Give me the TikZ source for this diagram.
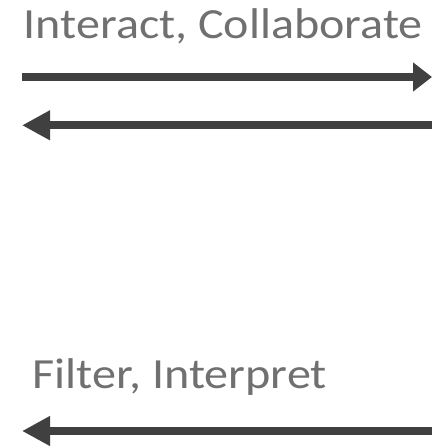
\documentclass[tikz,border=0pt]{standalone}
\usepackage{fontspec}
\setmainfont{Carlito}
\usetikzlibrary{arrows.meta}
\definecolor{labelgray}{HTML}{707070}
\definecolor{arrowgray}{HTML}{404040}
% set a label to a given overall width, keeping its natural height
\newcommand{\labelto}[2]{\resizebox{#1}{\height}{#2}}
\tikzset{
  label text/.style={anchor=base west, inner sep=0pt, text=labelgray,
    font=\fontsize{43}{43}\selectfont},
  flow/.style={draw=arrowgray, line width=8.3pt, line cap=butt,
    -{Triangle[length=28pt,width=28pt]}},
}
\begin{document}
\begin{tikzpicture}[x=1pt,y=-1pt]
  \useasboundingbox (0,0) rectangle (432,446);
  % labels
  \node[label text] (top) at (23.6,39) {\labelto{399pt}{Interact, Collaborate}};
  \node[label text] (bottom) at (32.6,388) {\labelto{294pt}{Filter, Interpret}};
  % arrow end points
  \coordinate (a1s) at (22,77);
  \coordinate (a1e) at (432,77);
  \coordinate (a2s) at (432,125.3);
  \coordinate (a2e) at (22,125.3);
  \coordinate (a3s) at (432,431);
  \coordinate (a3e) at (22,431);
  % arrows
  \draw[flow, -{Triangle[length=19pt,width=28pt]}] (a1s) -- (a1e);
  \draw[flow] (a2s) -- (a2e);
  \draw[flow] (a3s) -- (a3e);
\end{tikzpicture}
\end{document}
